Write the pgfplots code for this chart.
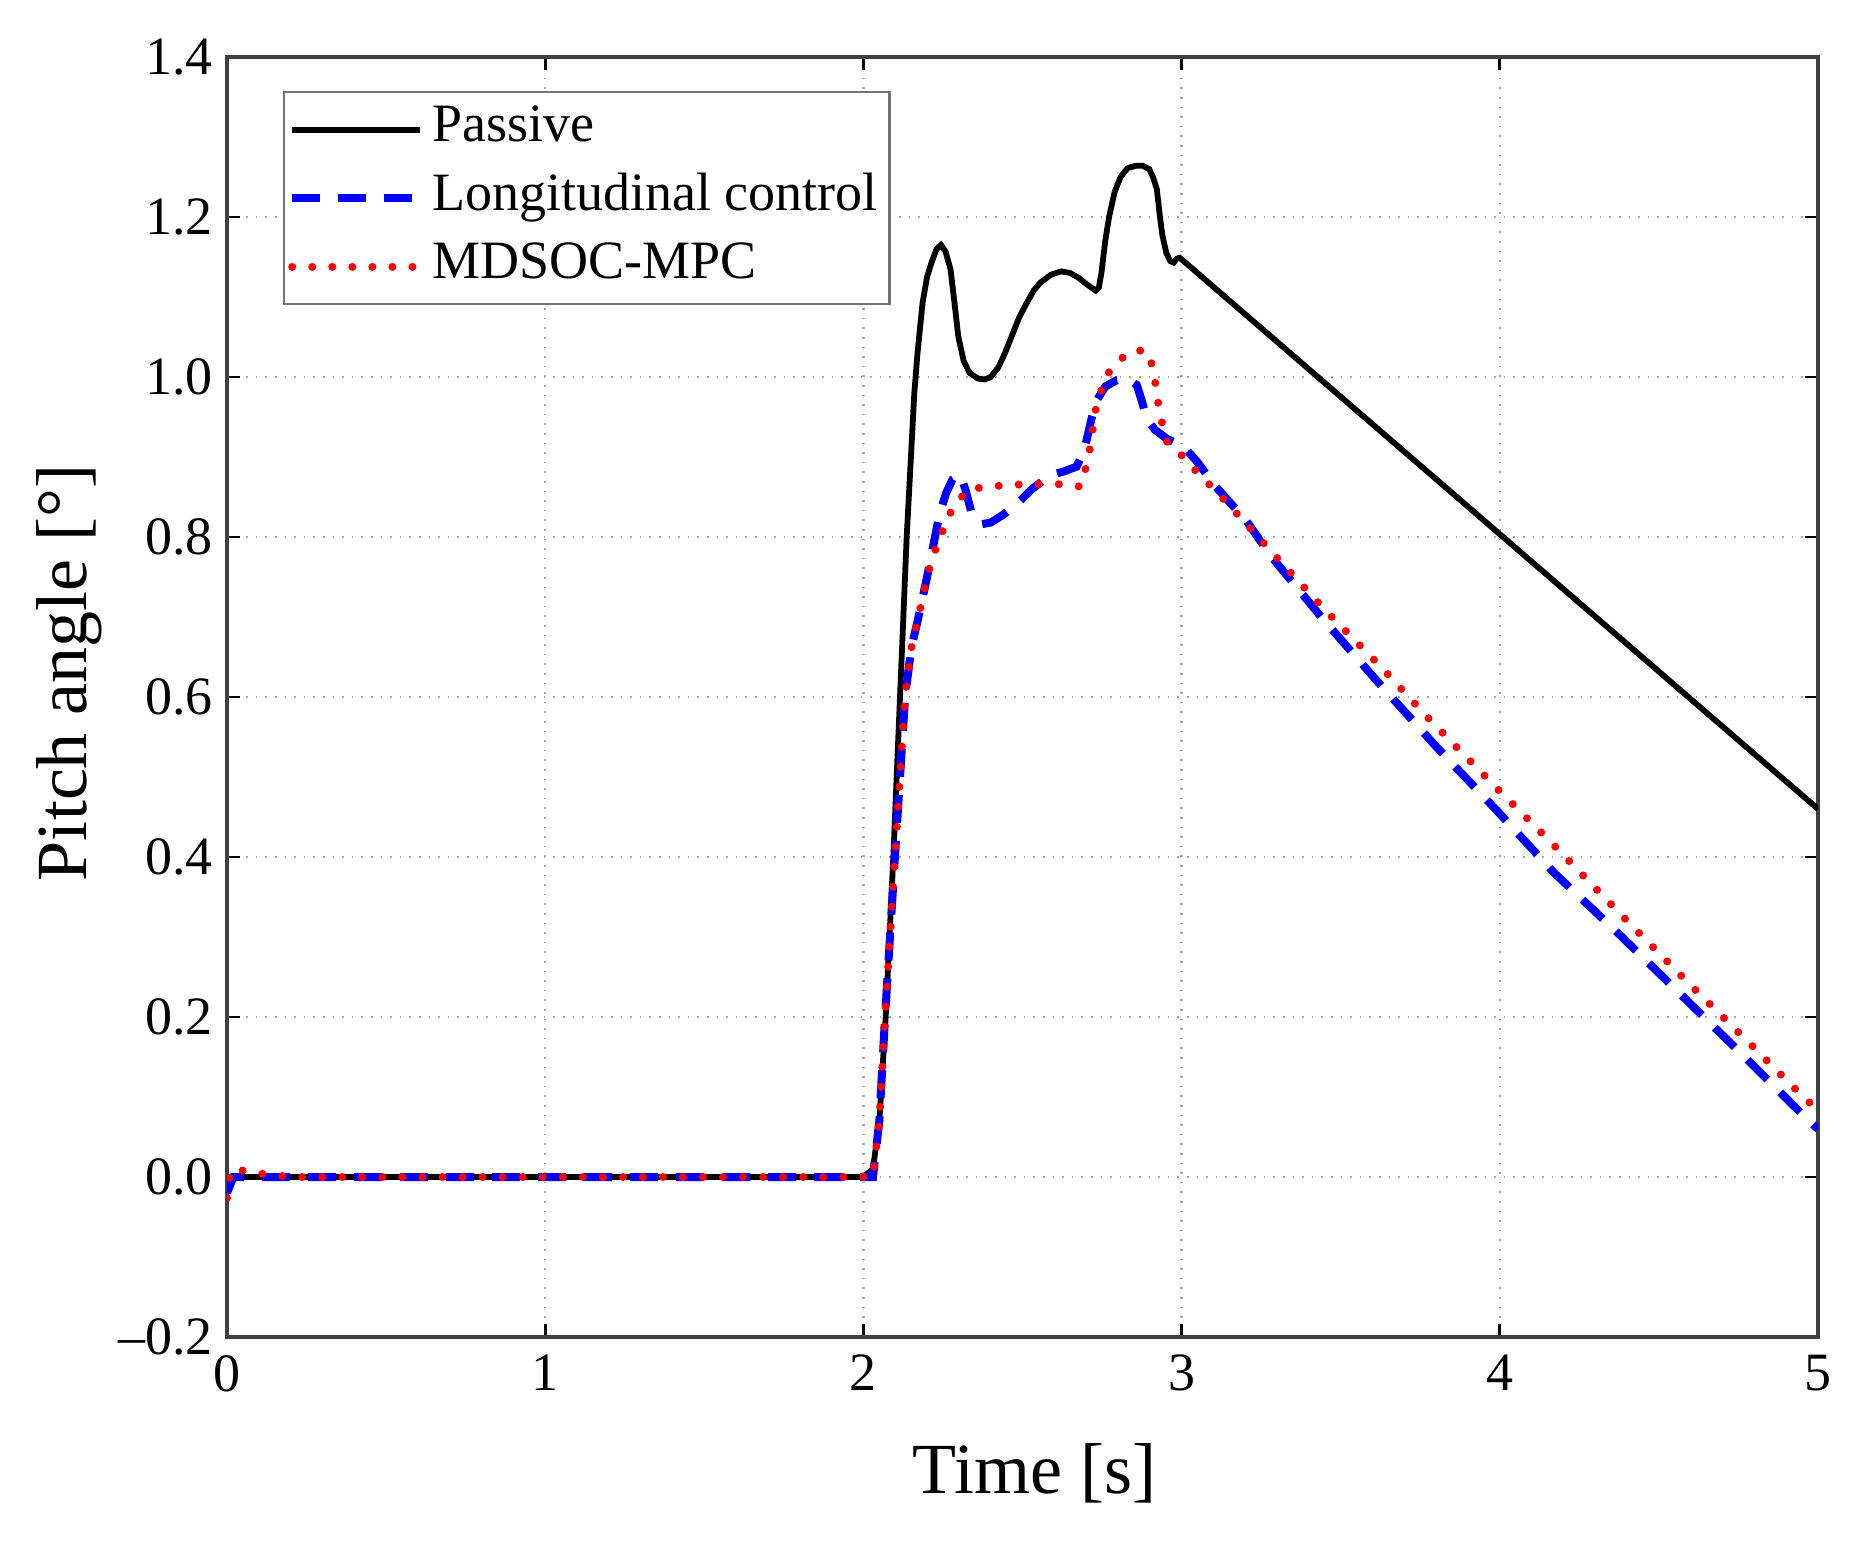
\documentclass[border=0pt]{standalone}
\usepackage{fontspec}
\setmainfont{Liberation Serif}
\usepackage{pgfplots}
\pgfplotsset{compat=1.18}

% passive suspension
\pgfplotstableread{
x y
0 -0.012
0.01 0
2.0 0
2.03 0.01
2.05 0.07
2.07 0.2
2.094 0.4
2.115 0.6
2.136 0.8
2.148 0.89
2.16 0.98
2.17 1.03
2.186 1.093
2.20 1.125
2.214 1.143
2.23 1.16
2.244 1.165
2.258 1.157
2.274 1.134
2.287 1.09
2.298 1.051
2.315 1.02
2.334 1.005
2.36 0.998
2.382 0.997
2.40 1.0
2.424 1.012
2.445 1.03
2.466 1.051
2.49 1.075
2.514 1.093
2.535 1.108
2.556 1.118
2.59 1.128
2.622 1.132
2.65 1.13
2.676 1.124
2.705 1.115
2.73 1.108
2.74 1.112
2.748 1.13
2.76 1.17
2.772 1.2
2.79 1.232
2.808 1.25
2.83 1.261
2.856 1.264
2.878 1.264
2.898 1.26
2.91 1.25
2.922 1.235
2.932 1.2
2.94 1.176
2.952 1.155
2.964 1.145
2.975 1.143
2.985 1.148
2.994 1.149
3.006 1.145
5 0.46
}\passive

% longitudinal control
\pgfplotstableread{
x y
0 -0.02
0.01 -0.01
0.02 0
2.03 0
2.05 0.07
2.068 0.2
2.099 0.4
2.115 0.5
2.131 0.6
2.15 0.66
2.173 0.7
2.2 0.75
2.22 0.79
2.24 0.83
2.26 0.855
2.28 0.872
2.304 0.878
2.32 0.86
2.34 0.83
2.372 0.816
2.40 0.818
2.44 0.828
2.482 0.841
2.53 0.86
2.586 0.877
2.63 0.882
2.67 0.888
2.695 0.91
2.717 0.948
2.735 0.972
2.76 0.988
2.796 0.996
2.835 0.997
2.859 0.99
2.875 0.97
2.89 0.948
2.916 0.934
2.953 0.923
3.006 0.913
3.047 0.895
3.107 0.863
3.204 0.82
3.279 0.777
3.443 0.698
3.614 0.62
3.8 0.538
3.986 0.46
4.171 0.38
4.371 0.305
4.564 0.23
4.757 0.155
4.964 0.073
5 0.06
}\longit

% MDSOC-MPC
\pgfplotstableread{
x y
0 -0.026
0.008 0.0
0.02 0.011
0.07 0.006
0.13 0.003
0.2 0
2.03 0
2.05 0.07
2.068 0.2
2.099 0.4
2.131 0.6
2.15 0.66
2.173 0.7
2.2 0.75
2.217 0.775
2.238 0.796
2.258 0.817
2.283 0.838
2.328 0.859
2.387 0.863
2.503 0.866
2.618 0.866
2.682 0.863
2.695 0.88
2.712 0.911
2.73 0.959
2.76 1.0
2.8 1.02
2.846 1.033
2.89 1.033
2.90 1.025
2.91 1.01
2.92 0.986
2.928 0.963
2.94 0.94
2.952 0.92
2.998 0.903
3.042 0.884
3.121 0.852
3.204 0.816
3.286 0.78
3.45 0.709
3.621 0.64
3.779 0.572
3.993 0.485
4.157 0.42
4.371 0.332
4.579 0.248
4.793 0.164
4.964 0.096
5 0.085
}\mdsoc

\begin{document}
\begin{tikzpicture}
\begin{axis}[
  scale only axis,
  width=397.75pt, height=320pt,
  xmin=0, xmax=5, ymin=-0.2, ymax=1.4,
  xtick={0,1,2,3,4,5},
  xticklabels={0,1,2,3,4,5},
  ytick={-0.2,0,0.2,0.4,0.6,0.8,1.0,1.2,1.4},
  yticklabels={\textendash0.2,0.0,0.2,0.4,0.6,0.8,1.0,1.2,1.4},
  tick align=inside, tick pos=both,
  major tick length=3.3pt,
  tick style={black, line width=0.7pt},
  ticklabel style={font=\fontsize{13.5}{16}\selectfont},
  xticklabel style={yshift=-1pt},
  axis line style={black!75, line width=1pt},
  grid=major,
  grid style={dotted, black!35, line width=0.6pt},
  xlabel={Time [s]},
  ylabel={Pitch angle [°]},
  label style={font=\fontsize{18}{21}\selectfont},
  xlabel style={at={(rel axis cs:0.5075,-0.1219)}, anchor=base},
  ylabel style={at={(rel axis cs:-0.088,0.519)}, anchor=base},
  legend style={
    at={(rel axis cs:0.0352,0.9734)}, anchor=north west,
    draw=black!55, line width=0.6pt,
    font=\fontsize{13.5}{16}\selectfont,
    inner xsep=1pt, inner ysep=1.9pt,
    row sep=2.1pt,
    nodes={text height=9pt, text depth=3pt, inner ysep=1.5pt, inner xsep=2pt},
  },
  legend cell align=left,
  legend image code/.code={\draw[#1] (0pt,0pt) -- (32pt,0pt);},
]
\addplot[black, line width=1.45pt] table {\passive};
\addlegendentry{Passive}
\addplot[blue, line width=2pt, dash pattern=on 7pt off 4.5pt] table {\longit};
\addlegendentry{Longitudinal control}
\addplot[red, line width=2pt, line cap=round, dash pattern=on 0.01pt off 5pt] table {\mdsoc};
\addlegendentry{MDSOC-MPC}
\end{axis}
\pgfresetboundingbox
\path[use as bounding box] ([xshift=-56.75pt,yshift=-51.5pt]current axis.south west) rectangle ([xshift=11pt,yshift=14.25pt]current axis.north east);
\end{tikzpicture}
\end{document}
